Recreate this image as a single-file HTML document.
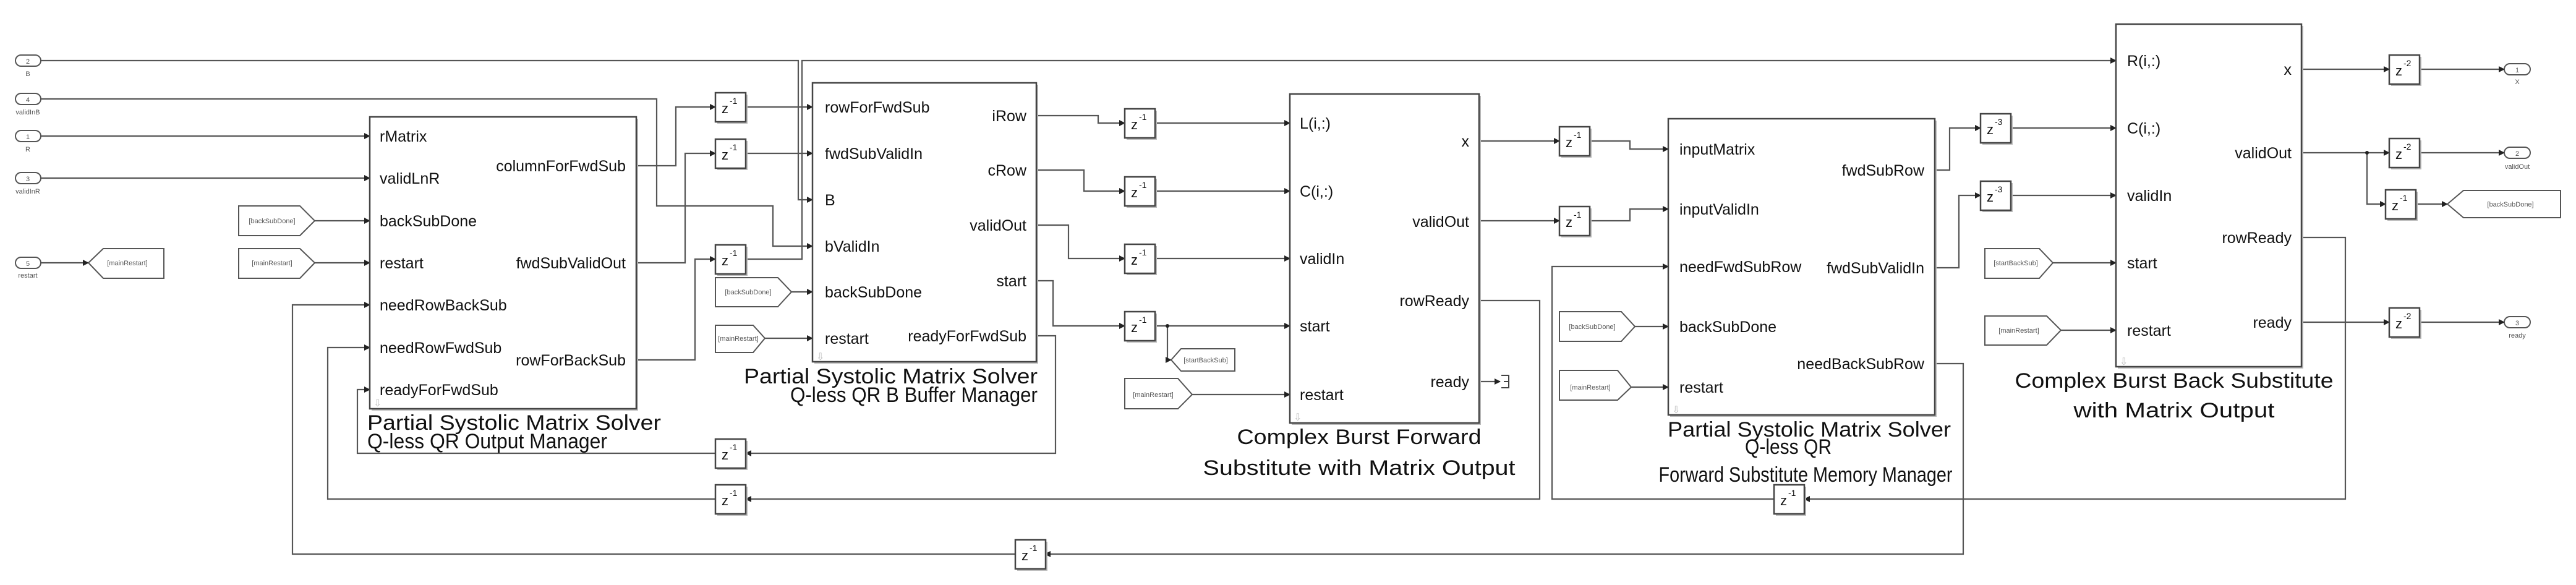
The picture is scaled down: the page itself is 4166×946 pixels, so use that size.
<!DOCTYPE html>
<html><head><meta charset="utf-8"><style>
html,body{margin:0;padding:0;background:#fff;}
svg{display:block;}
.w{fill:none;stroke:#555;stroke-width:2.2;}
.b{fill:#fff;stroke:#444;stroke-width:2.5;}
.sh{fill:#bbb;}
.pl{font-family:"Liberation Sans",sans-serif;font-size:25px;fill:#111;}
.tt{font-family:"Liberation Sans",sans-serif;font-size:34px;fill:#111;}
.sm{font-family:"Liberation Sans",sans-serif;font-size:11px;fill:#555;}
.z{font-family:"Liberation Sans",sans-serif;font-size:22px;fill:#111;}
.zs{font-family:"Liberation Sans",sans-serif;font-size:14px;fill:#111;}
</style></head><body>
<svg width="4166" height="946" viewBox="0 0 4166 946" xmlns="http://www.w3.org/2000/svg">
<defs><marker id="a" markerWidth="10" markerHeight="10" refX="9" refY="5" orient="auto" markerUnits="userSpaceOnUse"><path d="M0,0 L10,5 L0,10 z" fill="#222"/></marker></defs>

<g class="w">
<polyline points="66,98 1291,98 1291,323 1314,323" marker-end="url(#a)"/>
<polyline points="66,160 1062,160 1062,333 1250,333 1250,398 1314,398" marker-end="url(#a)"/>
<polyline points="66,220 598,220" marker-end="url(#a)"/>
<polyline points="66,288 598,288" marker-end="url(#a)"/>
<polyline points="66,425 143,425" marker-end="url(#a)"/>
<polyline points="509,357 598,357" marker-end="url(#a)"/>
<polyline points="509,425 598,425" marker-end="url(#a)"/>
<polyline points="1029,268 1093,268 1093,173 1157,173" marker-end="url(#a)"/>
<polyline points="1029,425 1108,425 1108,248 1157,248" marker-end="url(#a)"/>
<polyline points="1029,582 1124,582 1124,419 1157,419" marker-end="url(#a)"/>
<polyline points="1206,173 1314,173" marker-end="url(#a)"/>
<polyline points="1206,248 1314,248" marker-end="url(#a)"/>
<polyline points="1206,419 1297,419 1297,98 3422,98" marker-end="url(#a)"/>
<polyline points="1280,472 1314,472" marker-end="url(#a)"/>
<polyline points="1237,547 1314,547" marker-end="url(#a)"/>
<polyline points="1676,543 1707,543 1707,733 1206,733" marker-end="url(#a)"/>
<polyline points="1157,733 578,733 578,630 598,630" marker-end="url(#a)"/>
<polyline points="1676,187 1776,187 1776,199 1819,199" marker-end="url(#a)"/>
<polyline points="1676,275 1753,275 1753,309 1819,309" marker-end="url(#a)"/>
<polyline points="1676,364 1728,364 1728,418 1819,418" marker-end="url(#a)"/>
<polyline points="1676,454 1703,454 1703,527 1819,527" marker-end="url(#a)"/>
<polyline points="1868,199 2086,199" marker-end="url(#a)"/>
<polyline points="1868,309 2086,309" marker-end="url(#a)"/>
<polyline points="1868,418 2086,418" marker-end="url(#a)"/>
<polyline points="1868,527 2086,527" marker-end="url(#a)"/>
<polyline points="1888,527 1888,582 1894,582" marker-end="url(#a)"/>
<polyline points="1928,638 2086,638" marker-end="url(#a)"/>
<polyline points="2392,617 2426,617" marker-end="url(#a)"/>
<polyline points="2392,228 2522,228" marker-end="url(#a)"/>
<polyline points="2392,357 2522,357" marker-end="url(#a)"/>
<polyline points="2570,228 2636,228 2636,241 2698,241" marker-end="url(#a)"/>
<polyline points="2570,357 2636,357 2636,338 2698,338" marker-end="url(#a)"/>
<polyline points="2392,486 2490,486 2490,807 1206,807" marker-end="url(#a)"/>
<polyline points="1157,807 530,807 530,562 598,562" marker-end="url(#a)"/>
<polyline points="3722,384 3793,384 3793,807 2918,807" marker-end="url(#a)"/>
<polyline points="2869,807 2510,807 2510,431 2698,431" marker-end="url(#a)"/>
<polyline points="2644,528 2698,528" marker-end="url(#a)"/>
<polyline points="2638,626 2698,626" marker-end="url(#a)"/>
<polyline points="3129,275 3153,275 3153,207 3203,207" marker-end="url(#a)"/>
<polyline points="3129,433 3168,433 3168,316 3203,316" marker-end="url(#a)"/>
<polyline points="3252,207 3422,207" marker-end="url(#a)"/>
<polyline points="3252,316 3422,316" marker-end="url(#a)"/>
<polyline points="3129,588 3175,588 3175,896 1690,896" marker-end="url(#a)"/>
<polyline points="1642,896 473,896 473,493 598,493" marker-end="url(#a)"/>
<polyline points="3320,425 3422,425" marker-end="url(#a)"/>
<polyline points="3333,534 3422,534" marker-end="url(#a)"/>
<polyline points="3722,112 3864,112" marker-end="url(#a)"/>
<polyline points="3913,112 4050,112" marker-end="url(#a)"/>
<polyline points="3722,247 3864,247" marker-end="url(#a)"/>
<polyline points="3828,247 3828,330 3858,330" marker-end="url(#a)"/>
<polyline points="3913,247 4050,247" marker-end="url(#a)"/>
<polyline points="3907,330 3958,330" marker-end="url(#a)"/>
<polyline points="3722,521 3864,521" marker-end="url(#a)"/>
<polyline points="3913,521 4050,521" marker-end="url(#a)"/>
</g>
<circle cx="1888" cy="527" r="3" fill="#222"/>
<circle cx="3828" cy="247" r="3" fill="#222"/>
<path d="M2428,607 L2440,607 L2440,627 L2428,627 M2432,617 L2440,617" fill="none" stroke="#444" stroke-width="2"/>

<g>
<rect x="25" y="89" width="41" height="18" rx="9" fill="#fff" stroke="#555" stroke-width="2"/><text x="45" y="103" class="sm" text-anchor="middle">2</text><text x="45" y="123" class="sm" text-anchor="middle">B</text>
<rect x="25" y="151" width="41" height="18" rx="9" fill="#fff" stroke="#555" stroke-width="2"/><text x="45" y="165" class="sm" text-anchor="middle">4</text><text x="45" y="185" class="sm" text-anchor="middle">validInB</text>
<rect x="25" y="211" width="41" height="18" rx="9" fill="#fff" stroke="#555" stroke-width="2"/><text x="45" y="225" class="sm" text-anchor="middle">1</text><text x="45" y="245" class="sm" text-anchor="middle">R</text>
<rect x="25" y="279" width="41" height="18" rx="9" fill="#fff" stroke="#555" stroke-width="2"/><text x="45" y="293" class="sm" text-anchor="middle">3</text><text x="45" y="313" class="sm" text-anchor="middle">validInR</text>
<rect x="25" y="416" width="41" height="18" rx="9" fill="#fff" stroke="#555" stroke-width="2"/><text x="45" y="430" class="sm" text-anchor="middle">5</text><text x="45" y="449" class="sm" text-anchor="middle">restart</text>
<rect x="4050" y="103" width="42" height="18" rx="9" fill="#fff" stroke="#555" stroke-width="2"/><text x="4071" y="117" class="sm" text-anchor="middle">1</text><text x="4071" y="136" class="sm" text-anchor="middle">X</text>
<rect x="4050" y="238" width="42" height="18" rx="9" fill="#fff" stroke="#555" stroke-width="2"/><text x="4071" y="252" class="sm" text-anchor="middle">2</text><text x="4071" y="273" class="sm" text-anchor="middle">validOut</text>
<rect x="4050" y="512" width="42" height="18" rx="9" fill="#fff" stroke="#555" stroke-width="2"/><text x="4071" y="526" class="sm" text-anchor="middle">3</text><text x="4071" y="546" class="sm" text-anchor="middle">ready</text>
</g>

<g fill="#fff" stroke="#555" stroke-width="2">
<polygon points="143,425 167,402 265,402 265,450 167,450"/>
<polygon points="386,333 485,333 509,357 485,381 386,381"/>
<polygon points="386,402 485,402 509,425 485,450 386,450"/>
<polygon points="1157,449 1258,449 1280,472 1258,496 1157,496"/>
<polygon points="1157,526 1218,526 1237,547 1218,570 1157,570"/>
<polygon points="1894,582 1910,564 1997,564 1997,600 1910,600"/>
<polygon points="1819,612 1905,612 1928,638 1905,661 1819,661"/>
<polygon points="2522,504 2622,504 2644,528 2622,552 2522,552"/>
<polygon points="2522,599 2616,599 2638,626 2616,647 2522,647"/>
<polygon points="3210,402 3298,402 3320,425 3298,450 3210,450"/>
<polygon points="3210,511 3310,511 3333,534 3310,558 3210,558"/>
<polygon points="3958,330 3984,308 4141,308 4141,352 3984,352"/>
</g>
<g class="sm">
<text x="206" y="429" text-anchor="middle">[mainRestart]</text>
<text x="440" y="361" text-anchor="middle">[backSubDone]</text>
<text x="440" y="429" text-anchor="middle">[mainRestart]</text>
<text x="1210" y="476" text-anchor="middle">[backSubDone]</text>
<text x="1194" y="551" text-anchor="middle">[mainRestart]</text>
<text x="1950" y="586" text-anchor="middle">[startBackSub]</text>
<text x="1865" y="642" text-anchor="middle">[mainRestart]</text>
<text x="2575" y="532" text-anchor="middle">[backSubDone]</text>
<text x="2572" y="630" text-anchor="middle">[mainRestart]</text>
<text x="3260" y="429" text-anchor="middle">[startBackSub]</text>
<text x="3265" y="538" text-anchor="middle">[mainRestart]</text>
<text x="4060" y="334" text-anchor="middle">[backSubDone]</text>
</g>

<g>
<g transform="translate(1157,150)"><rect x="3" y="3" width="49" height="47" class="sh"/><rect width="49" height="47" class="b" stroke-width="2"/><text x="10" y="33" class="z">z</text><text x="23" y="18" class="zs">-1</text></g>
<g transform="translate(1157,225)"><rect x="3" y="3" width="49" height="47" class="sh"/><rect width="49" height="47" class="b" stroke-width="2"/><text x="10" y="33" class="z">z</text><text x="23" y="18" class="zs">-1</text></g>
<g transform="translate(1157,396)"><rect x="3" y="3" width="49" height="47" class="sh"/><rect width="49" height="47" class="b" stroke-width="2"/><text x="10" y="33" class="z">z</text><text x="23" y="18" class="zs">-1</text></g>
<g transform="translate(1157,710)"><rect x="3" y="3" width="49" height="47" class="sh"/><rect width="49" height="47" class="b" stroke-width="2"/><text x="10" y="33" class="z">z</text><text x="23" y="18" class="zs">-1</text></g>
<g transform="translate(1157,784)"><rect x="3" y="3" width="49" height="47" class="sh"/><rect width="49" height="47" class="b" stroke-width="2"/><text x="10" y="33" class="z">z</text><text x="23" y="18" class="zs">-1</text></g>
<g transform="translate(1642,873)"><rect x="3" y="3" width="49" height="47" class="sh"/><rect width="49" height="47" class="b" stroke-width="2"/><text x="10" y="33" class="z">z</text><text x="23" y="18" class="zs">-1</text></g>
<g transform="translate(1819,176)"><rect x="3" y="3" width="49" height="47" class="sh"/><rect width="49" height="47" class="b" stroke-width="2"/><text x="10" y="33" class="z">z</text><text x="23" y="18" class="zs">-1</text></g>
<g transform="translate(1819,286)"><rect x="3" y="3" width="49" height="47" class="sh"/><rect width="49" height="47" class="b" stroke-width="2"/><text x="10" y="33" class="z">z</text><text x="23" y="18" class="zs">-1</text></g>
<g transform="translate(1819,395)"><rect x="3" y="3" width="49" height="47" class="sh"/><rect width="49" height="47" class="b" stroke-width="2"/><text x="10" y="33" class="z">z</text><text x="23" y="18" class="zs">-1</text></g>
<g transform="translate(1819,504)"><rect x="3" y="3" width="49" height="47" class="sh"/><rect width="49" height="47" class="b" stroke-width="2"/><text x="10" y="33" class="z">z</text><text x="23" y="18" class="zs">-1</text></g>
<g transform="translate(2522,205)"><rect x="3" y="3" width="49" height="47" class="sh"/><rect width="49" height="47" class="b" stroke-width="2"/><text x="10" y="33" class="z">z</text><text x="23" y="18" class="zs">-1</text></g>
<g transform="translate(2522,334)"><rect x="3" y="3" width="49" height="47" class="sh"/><rect width="49" height="47" class="b" stroke-width="2"/><text x="10" y="33" class="z">z</text><text x="23" y="18" class="zs">-1</text></g>
<g transform="translate(2869,784)"><rect x="3" y="3" width="49" height="47" class="sh"/><rect width="49" height="47" class="b" stroke-width="2"/><text x="10" y="33" class="z">z</text><text x="23" y="18" class="zs">-1</text></g>
<g transform="translate(3203,184)"><rect x="3" y="3" width="49" height="47" class="sh"/><rect width="49" height="47" class="b" stroke-width="2"/><text x="10" y="33" class="z">z</text><text x="23" y="18" class="zs">-3</text></g>
<g transform="translate(3203,293)"><rect x="3" y="3" width="49" height="47" class="sh"/><rect width="49" height="47" class="b" stroke-width="2"/><text x="10" y="33" class="z">z</text><text x="23" y="18" class="zs">-3</text></g>
<g transform="translate(3864,89)"><rect x="3" y="3" width="49" height="47" class="sh"/><rect width="49" height="47" class="b" stroke-width="2"/><text x="10" y="33" class="z">z</text><text x="23" y="18" class="zs">-2</text></g>
<g transform="translate(3864,224)"><rect x="3" y="3" width="49" height="47" class="sh"/><rect width="49" height="47" class="b" stroke-width="2"/><text x="10" y="33" class="z">z</text><text x="23" y="18" class="zs">-2</text></g>
<g transform="translate(3858,307)"><rect x="3" y="3" width="49" height="47" class="sh"/><rect width="49" height="47" class="b" stroke-width="2"/><text x="10" y="33" class="z">z</text><text x="23" y="18" class="zs">-1</text></g>
<g transform="translate(3864,498)"><rect x="3" y="3" width="49" height="47" class="sh"/><rect width="49" height="47" class="b" stroke-width="2"/><text x="10" y="33" class="z">z</text><text x="23" y="18" class="zs">-2</text></g>
</g>

<!-- Block 1 -->
<rect x="601" y="192" width="431" height="472" class="sh"/>
<rect x="598" y="189" width="431" height="472" class="b"/>
<g class="pl">
<text x="614" y="229">rMatrix</text>
<text x="614" y="297">validLnR</text>
<text x="614" y="366">backSubDone</text>
<text x="614" y="434">restart</text>
<text x="614" y="502">needRowBackSub</text>
<text x="614" y="571">needRowFwdSub</text>
<text x="614" y="639">readyForFwdSub</text>
<text x="1012" y="277" text-anchor="end">columnForFwdSub</text>
<text x="1012" y="434" text-anchor="end">fwdSubValidOut</text>
<text x="1012" y="591" text-anchor="end">rowForBackSub</text>
</g>
<text x="594" y="695" class="tt" textLength="475" lengthAdjust="spacingAndGlyphs">Partial Systolic Matrix Solver</text>
<text x="594" y="725" class="tt" font-size="31" textLength="388" lengthAdjust="spacingAndGlyphs">Q-less QR Output Manager</text>

<!-- Block 2 -->
<rect x="1317" y="137" width="362" height="451" class="sh"/>
<rect x="1314" y="134" width="362" height="451" class="b"/>
<g class="pl">
<text x="1334" y="182">rowForFwdSub</text>
<text x="1334" y="257">fwdSubValidIn</text>
<text x="1334" y="332">B</text>
<text x="1334" y="407">bValidIn</text>
<text x="1334" y="481">backSubDone</text>
<text x="1334" y="556">restart</text>
<text x="1660" y="196" text-anchor="end">iRow</text>
<text x="1660" y="284" text-anchor="end">cRow</text>
<text x="1660" y="373" text-anchor="end">validOut</text>
<text x="1660" y="463" text-anchor="end">start</text>
<text x="1660" y="552" text-anchor="end">readyForFwdSub</text>
</g>
<text x="1203" y="620" class="tt" font-size="32" textLength="475" lengthAdjust="spacingAndGlyphs">Partial Systolic Matrix Solver</text>
<text x="1278" y="650" class="tt" font-size="30" textLength="400" lengthAdjust="spacingAndGlyphs">Q-less QR B Buffer Manager</text>

<!-- Block 3 -->
<rect x="2089" y="155" width="306" height="532" class="sh"/>
<rect x="2086" y="152" width="306" height="532" class="b"/>
<g class="pl">
<text x="2102" y="208">L(i,:)</text>
<text x="2102" y="318">C(i,:)</text>
<text x="2102" y="427">validIn</text>
<text x="2102" y="536">start</text>
<text x="2102" y="647">restart</text>
<text x="2376" y="237" text-anchor="end">x</text>
<text x="2376" y="367" text-anchor="end">validOut</text>
<text x="2376" y="495" text-anchor="end">rowReady</text>
<text x="2376" y="626" text-anchor="end">ready</text>
</g>
<text x="2198" y="718" class="tt" text-anchor="middle" textLength="395" lengthAdjust="spacingAndGlyphs">Complex Burst Forward</text>
<text x="2198" y="768" class="tt" text-anchor="middle" textLength="505" lengthAdjust="spacingAndGlyphs">Substitute with Matrix Output</text>

<!-- Block 4 -->
<rect x="2701" y="195" width="431" height="479" class="sh"/>
<rect x="2698" y="192" width="431" height="479" class="b"/>
<g class="pl">
<text x="2716" y="250">inputMatrix</text>
<text x="2716" y="347">inputValidIn</text>
<text x="2716" y="440">needFwdSubRow</text>
<text x="2716" y="537">backSubDone</text>
<text x="2716" y="635">restart</text>
<text x="3112" y="284" text-anchor="end">fwdSubRow</text>
<text x="3112" y="442" text-anchor="end">fwdSubValidIn</text>
<text x="3112" y="597" text-anchor="end">needBackSubRow</text>
</g>
<text x="2926" y="706" class="tt" text-anchor="middle" textLength="458" lengthAdjust="spacingAndGlyphs">Partial Systolic Matrix Solver</text>
<text x="2892" y="734" class="tt" font-size="29" text-anchor="middle" textLength="140" lengthAdjust="spacingAndGlyphs">Q-less QR</text>
<text x="2920" y="779" class="tt" font-size="30" text-anchor="middle" textLength="475" lengthAdjust="spacingAndGlyphs">Forward Substitute Memory Manager</text>

<!-- Block 5 -->
<rect x="3425" y="42" width="300" height="554" class="sh"/>
<rect x="3422" y="39" width="300" height="554" class="b"/>
<g class="pl">
<text x="3440" y="107">R(i,:)</text>
<text x="3440" y="216">C(i,:)</text>
<text x="3440" y="325">validIn</text>
<text x="3440" y="434">start</text>
<text x="3440" y="543">restart</text>
<text x="3706" y="121" text-anchor="end">x</text>
<text x="3706" y="256" text-anchor="end">validOut</text>
<text x="3706" y="393" text-anchor="end">rowReady</text>
<text x="3706" y="530" text-anchor="end">ready</text>
</g>
<text x="3516" y="627" class="tt" text-anchor="middle" textLength="515" lengthAdjust="spacingAndGlyphs">Complex Burst Back Substitute</text>
<text x="3516" y="675" class="tt" text-anchor="middle" textLength="325" lengthAdjust="spacingAndGlyphs">with Matrix Output</text>

<g fill="#bbb" font-family="Liberation Sans,sans-serif" font-size="16">
<text x="604" y="657">⇩</text><text x="1320" y="582">⇩</text><text x="2092" y="680">⇩</text><text x="2704" y="668">⇩</text><text x="3428" y="590">⇩</text>
</g>
</svg>
</body></html>
